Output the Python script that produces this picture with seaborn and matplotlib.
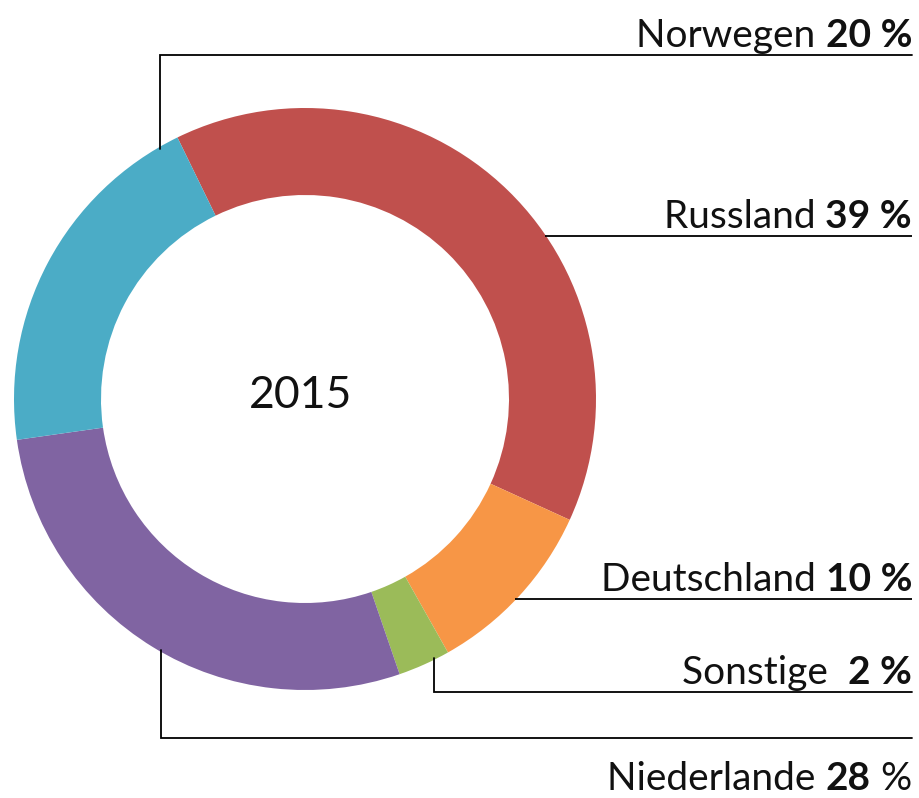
import matplotlib
matplotlib.use("Agg")
import matplotlib.pyplot as plt
import seaborn as sns
import numpy as np

# === DATA ===
countries = ["Russland", "Deutschland", "Sonstige", "Niederlande", "Norwegen"]
shares = [39, 10, 2.9, 28, 20]          # ring shares
label_pct = ["39", "10", "2", "28", "20"]  # printed percentages
colors = ["#C0504D", "#F79646", "#9BBB59", "#8064A2", "#4BACC6"]
year = "2015"

# === LAYOUT (pixel coords, image y goes down) ===
W, H = 919, 798
cx, cy = 305, 399
r_out, ring = 291, 87
right_x = 912
# line y of each label, and x of the vertical elbow (None = straight from ring)
line_y = {"Norwegen": 55, "Russland": 236, "Deutschland": 599, "Sonstige": 692, "Niederlande": 738}
elbow_x = {"Norwegen": 160, "Russland": None, "Deutschland": None, "Sonstige": 434, "Niederlande": 161}

sns.set_theme(style="white")
plt.rcParams["font.family"] = ["Lato", "DejaVu Sans"]

fig = plt.figure(figsize=(W / 100, H / 100), dpi=100)
ax = fig.add_axes([0, 0, 1, 1])
pal = sns.color_palette(colors)
ax.pie(shares, colors=pal, startangle=116, counterclock=False, center=(cx, H - cy),
       radius=r_out, wedgeprops=dict(width=ring, edgecolor="none"))
ax.set_xlim(0, W)
ax.set_ylim(0, H)
ax.set_aspect("equal")
ax.axis("off")

ax.text(cx - 4, H - 395, year, ha="center", va="center", fontsize=32, fontweight="normal", color="#111111")

# leader lines
for name in countries:
    ly = H - line_y[name]
    ex = elbow_x[name]
    if ex is None:
        dy = ly - (H - cy)
        x0 = cx + np.sqrt(r_out ** 2 - dy ** 2) - 1
        ax.plot([x0, right_x], [ly, ly], color="black", lw=1.3, solid_capstyle="butt")
    else:
        dx = ex - cx
        dyr = np.sqrt(r_out ** 2 - dx ** 2)
        y0 = (H - cy) + dyr if ly > H - cy else (H - cy) - dyr
        y0 += -2 if ly > H - cy else 2
        ax.plot([ex, ex, right_x], [y0, ly, ly], color="black", lw=1.3,
                solid_joinstyle="miter")

# labels: segments drawn right to left
fig.canvas.draw()
renderer = fig.canvas.get_renderer()
fs = 28
for name, pct in zip(countries, label_pct):
    gap = "  " if name == "Sonstige" else " "
    if name == "Niederlande":
        segs = [(name + " ", "normal"), (pct, "bold"), (" %", "normal")]
        base = H - 790
    else:
        segs = [(name + gap, "normal"), (pct + " %", "bold")]
        base = H - line_y[name] + 8
    x = right_x
    for txt, wt in reversed(segs):
        t = ax.text(x, base, txt, ha="right", va="baseline", fontsize=fs, fontweight=wt,
                    color="#111111")
        bb = t.get_window_extent(renderer)
        x = x - bb.width

fig.savefig("out.png", dpi=100)
